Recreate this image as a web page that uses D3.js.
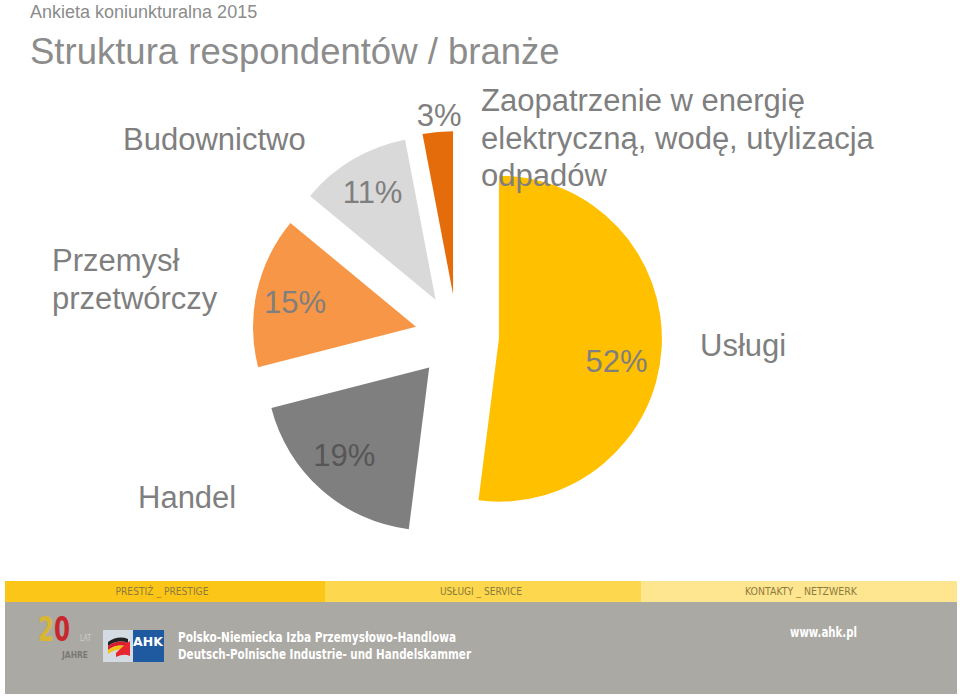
<!DOCTYPE html>
<html>
<head>
<meta charset="utf-8">
<script src="https://cdn.jsdelivr.net/npm/d3@7"></script>
<style>
  html, body { margin: 0; padding: 0; background: #ffffff; }
  svg { display: block; }
</style>
</head>
<body>
<svg id="chart" width="960" height="696"></svg>
<script>
// ---------- DATA ----------
const supertitle = "Ankieta koniunkturalna 2015";
const title = "Struktura respondentów / branże";
const categories = [
  "Usługi",
  "Handel",
  "Przemysł przetwórczy",
  "Budownictwo",
  "Zaopatrzenie w energię elektryczną, wodę, utylizacja odpadów"
];
const values = [52, 19, 15, 11, 3];
const categoryLines = [
  ["Usługi"],
  ["Handel"],
  ["Przemysł", "przetwórczy"],
  ["Budownictwo"],
  ["Zaopatrzenie w energię", "elektryczną, wodę, utylizacja", "odpadów"]
];
const bandLabels = [["PRESTIŻ", "PRESTIGE"], ["USŁUGI", "SERVICE"], ["KONTAKTY", "NETZWERK"]];
const orgLines = ["Polsko-Niemiecka Izba Przemysłowo-Handlowa", "Deutsch-Polnische Industrie- und Handelskammer"];
const website = "www.ahk.pl";

// ---------- STYLE / LAYOUT ----------
const colors = ["#ffc000", "#7f7f7f", "#f79646", "#d9d9d9", "#e46c0a"];
const textGray = "#7f7f7f";
const center = { x: 457, y: 336 };
const radius = 163;
const explode = 42;
const labelFont = 31;
// small manual nudges of the percentage labels (pixels)
const pctNudge = [{ dx: -6, dy: 14 }, { dx: -3, dy: -6 }, { dx: 0, dy: 2 }, { dx: 0, dy: -1 }, { dx: 3, dy: 0 }];
// anchor (left x, first baseline y) for outside category labels
const categoryLayout = [
  { x: 700, y: 356 },
  { x: 138, y: 508 },
  { x: 52, y: 271 },
  { x: 123, y: 150 },
  { x: 481, y: 111 }
];
const lineGap = 37.5;

const svg = d3.select("#chart");
const FONT = "'Liberation Sans', Arial, sans-serif";

// Titles
svg.append("text").attr("x", 30).attr("y", 18)
  .attr("font-family", FONT).attr("font-size", 18).attr("fill", "#8c8c8c")
  .text(supertitle);
svg.append("text").attr("x", 30).attr("y", 64)
  .attr("font-family", FONT).attr("font-size", 36.5).attr("fill", "#8c8c8c")
  .text(title);

// Pie
const pie = d3.pie().sort(null).startAngle(0).endAngle(2 * Math.PI).value(d => d);
const arcs = pie(values);
const arc = d3.arc().innerRadius(0).outerRadius(radius);

const g = svg.append("g").attr("transform", `translate(${center.x},${center.y})`);

function offset(d, dist) {
  const a = (d.startAngle + d.endAngle) / 2;
  return [Math.sin(a) * dist, -Math.cos(a) * dist];
}

g.selectAll("path.slice").data(arcs).join("path")
  .attr("class", "slice")
  .attr("d", arc)
  .attr("fill", (d, i) => colors[i])
  .attr("transform", d => { const [dx, dy] = offset(d, explode); return `translate(${dx},${dy})`; });

// Percentage labels
g.selectAll("text.pct").data(arcs).join("text")
  .attr("class", "pct")
  .attr("font-family", FONT).attr("font-size", labelFont)
  .attr("text-anchor", "middle").attr("dy", "0.36em")
  .attr("fill", (d, i) => d3.hsl(colors[i]).l < 0.55 && d3.hsl(colors[i]).s < 0.1 ? "#565656" : textGray)
  .attr("transform", (d, i) => {
    const [ex, ey] = offset(d, explode);
    const r = d.value < 5 ? radius + 17 : radius * 0.76;
    const [lx, ly] = offset(d, r);
    return `translate(${ex + lx + pctNudge[i].dx},${ey + ly + pctNudge[i].dy})`;
  })
  .text(d => d.value + "%");

// Category labels
categoryLines.forEach((lines, i) => {
  const t = svg.append("text")
    .attr("font-family", FONT).attr("font-size", labelFont).attr("fill", textGray);
  lines.forEach((ln, j) => {
    t.append("tspan").attr("x", categoryLayout[i].x).attr("y", categoryLayout[i].y + j * lineGap).text(ln);
  });
});

// ---------- FOOTER ----------
const defs = svg.append("defs");
const grad = defs.append("linearGradient").attr("id", "twentyGrad")
  .attr("gradientUnits", "userSpaceOnUse").attr("x1", 38).attr("x2", 70).attr("y1", 0).attr("y2", 0);
grad.append("stop").attr("offset", "0%").attr("stop-color", "#d9b632");
grad.append("stop").attr("offset", "48%").attr("stop-color", "#d9b632");
grad.append("stop").attr("offset", "52%").attr("stop-color", "#c8262d");
grad.append("stop").attr("offset", "100%").attr("stop-color", "#c8262d");

const foot = svg.append("g");
const bandY = 581, bandH = 21;
const bandX = [5, 325, 641, 957];
const bandColors = ["#fcc619", "#fdd74d", "#fee58f"];
bandLabels.forEach((b, i) => {
  foot.append("rect").attr("x", bandX[i]).attr("y", bandY)
    .attr("width", bandX[i + 1] - bandX[i]).attr("height", bandH).attr("fill", bandColors[i]);
});
const bandCenters = [162, 481, 801];
const bandWidths = [93, 82, 112];
const CONDENSED = "'Liberation Sans Narrow', 'DejaVu Sans Condensed', sans-serif";
bandLabels.forEach((b, i) => {
  const t = foot.append("text").attr("x", bandCenters[i]).attr("y", 595)
    .attr("text-anchor", "middle").attr("font-family", CONDENSED)
    .attr("font-size", 10.5).attr("fill", "#8c7b3e")
    .attr("textLength", bandWidths[i]).attr("lengthAdjust", "spacingAndGlyphs");
  t.append("tspan").text(b[0] + " ");
  t.append("tspan").attr("fill", "#b87a1e").text("_");
  t.append("tspan").text(" " + b[1]);
});
foot.append("rect").attr("x", 5).attr("y", bandY + bandH).attr("width", 952).attr("height", 92).attr("fill", "#aba9a3");

// "20 LAT JAHRE" logo
foot.append("text").attr("x", 38).attr("y", 641)
  .attr("font-family", CONDENSED).attr("font-weight", "bold").attr("font-size", 33)
  .attr("fill", "url(#twentyGrad)").attr("textLength", 32).attr("lengthAdjust", "spacingAndGlyphs").text("20");
foot.append("text").attr("x", 80).attr("y", 641)
  .attr("font-family", CONDENSED).attr("font-size", 8).attr("fill", "#d0cec8")
  .attr("textLength", 11).attr("lengthAdjust", "spacingAndGlyphs").text("LAT");
foot.append("text").attr("x", 62).attr("y", 658)
  .attr("font-family", CONDENSED).attr("font-weight", "bold").attr("font-size", 8).attr("fill", "#7a7874")
  .attr("textLength", 26).attr("lengthAdjust", "spacingAndGlyphs").text("JAHRE");

// AHK logo
foot.append("rect").attr("x", 103).attr("y", 630).attr("width", 30).attr("height", 32).attr("fill", "#d4dbe3");
foot.append("rect").attr("x", 133).attr("y", 630).attr("width", 31).attr("height", 32).attr("fill", "#1f5aa0");
foot.append("path").attr("d", "M108,642 Q118,635 128,639 L128,643 Q118,639 108,646 Z").attr("fill", "#222");
foot.append("path").attr("d", "M108,646 Q118,639 128,643 L128,647 Q118,643 108,650 Z").attr("fill", "#d81e2c");
foot.append("path").attr("d", "M108,650 Q118,643 128,647 L128,651 Q118,647 108,654 Z").attr("fill", "#f2c418");
foot.append("path").attr("d", "M116,653 Q124,645 130,641 L130,656 Q124,653 116,657 Z").attr("fill", "#e8262f");
foot.append("text").attr("x", 148).attr("y", 646).attr("text-anchor", "middle")
  .attr("font-family", "'DejaVu Sans', sans-serif").attr("font-weight", "bold").attr("font-size", 12.5)
  .attr("fill", "#ffffff").text("AHK");

orgLines.forEach((ln, i) => {
  foot.append("text").attr("x", 178).attr("y", 642 + i * 17)
    .attr("font-family", CONDENSED).attr("font-weight", "bold").attr("font-size", 14)
    .attr("fill", "#ffffff").attr("textLength", i === 0 ? 278 : 293).attr("lengthAdjust", "spacingAndGlyphs")
    .text(ln);
});
foot.append("text").attr("x", 790).attr("y", 637)
  .attr("font-family", CONDENSED).attr("font-weight", "bold").attr("font-size", 14)
  .attr("fill", "#ffffff").attr("textLength", 67).attr("lengthAdjust", "spacingAndGlyphs")
  .text(website);
</script>
</body>
</html>
